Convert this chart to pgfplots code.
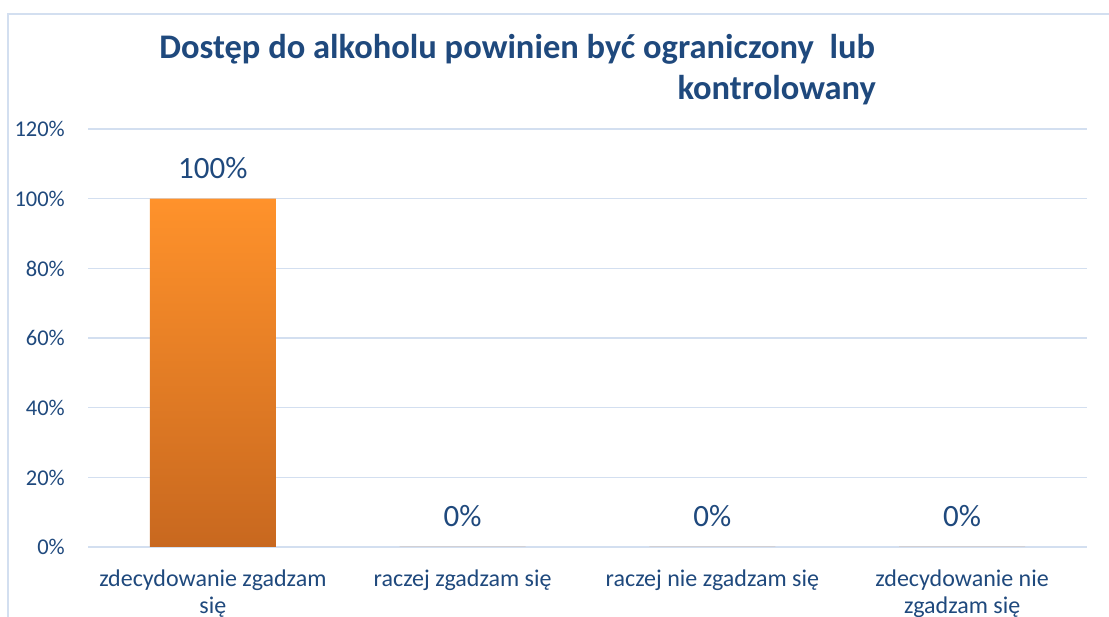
\documentclass[border=0pt]{standalone}
\usepackage{fontspec}
\setmainfont{Carlito}
\usepackage{pgfplots}
\pgfplotsset{compat=1.18}
\definecolor{txtblue}{HTML}{1F497D}
\definecolor{gridc}{HTML}{D3DFF0}
\definecolor{bartop}{HTML}{FF922B}
\definecolor{barbot}{HTML}{C8681F}
\begin{document}
\begin{tikzpicture}[x=1pt,y=1pt]
\useasboundingbox (0,0) rectangle (1109,617);
\fill[white] (0,0) rectangle (1109,617);
\draw[gridc, line width=1.5pt] (8,-20) -- (8,603) -- (1130,603);
\begin{axis}[
  at={(88pt,70pt)}, anchor=south west,
  scale only axis, width=999pt, height=418pt,
  xmin=-0.5, xmax=3.5, ymin=0, ymax=120,
  axis line style={draw=none},
  major tick length=0pt,
  ytick={0,20,40,60,80,100,120},
  yticklabels={0\%,20\%,40\%,60\%,80\%,100\%,120\%},
  ymajorgrids, grid style={gridc, line width=1.5pt},
  xtick={0,1,2,3},
  xticklabels={{zdecydowanie zgadzam\\się}, {raczej zgadzam się}, {raczej nie zgadzam się}, {zdecydowanie nie\\zgadzam się}},
  yticklabel style={font=\fontsize{22.5}{27}\selectfont, text=txtblue, anchor=base east, xshift=-23pt, yshift=-8pt, inner sep=0pt},
  xticklabel style={font=\fontsize{24}{27}\selectfont, text=txtblue, align=center, anchor=north, inner sep=0pt, yshift=-23pt},
  /pgf/number format/assume math mode=true,
  clip=false,
]
\addplot[ybar, bar width=0.504, draw=none, top color=bartop, bottom color=barbot,
  nodes near coords={\pgfmathprintnumber{\pgfplotspointmeta}\%},
  every node near coord/.append style={font=\fontsize{31}{36}\selectfont, text=txtblue, anchor=base, inner sep=0pt, yshift=20pt}]
  coordinates {(0,100) (1,0) (2,0) (3,0)};
\end{axis}
\node[anchor=base east, inner sep=0pt, text=txtblue, font=\fontsize{34.5}{40}\bfseries] at (875,558) {Dostęp do alkoholu powinien być ograniczony\ \ lub};
\node[anchor=base east, inner sep=0pt, text=txtblue, font=\fontsize{34.5}{40}\bfseries] at (876,517) {kontrolowany};
\end{tikzpicture}
\end{document}
